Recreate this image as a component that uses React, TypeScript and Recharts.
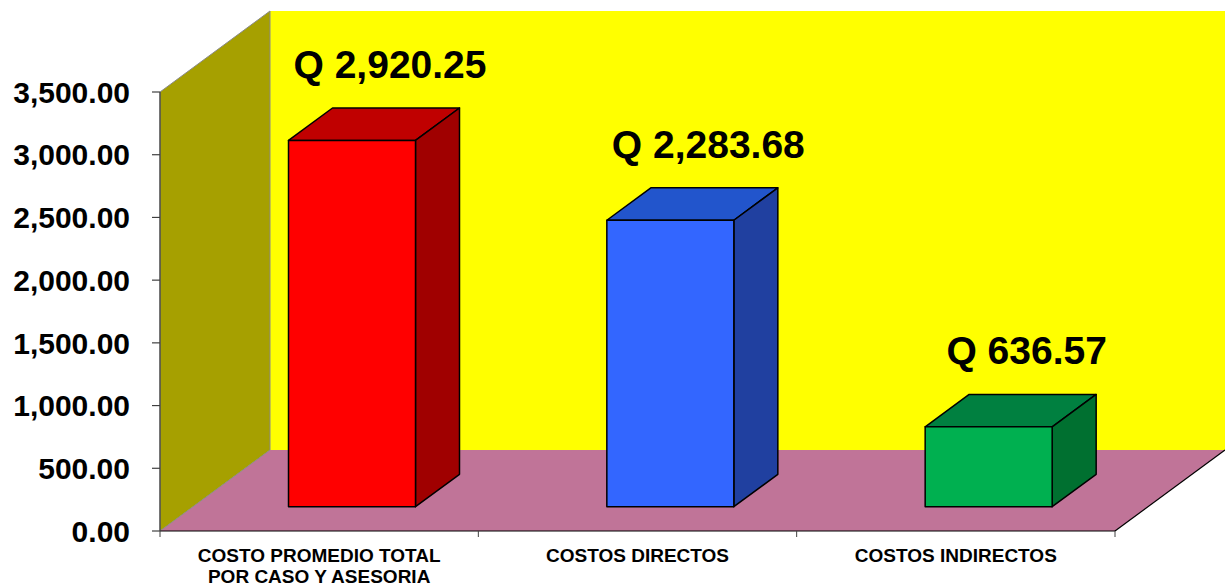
import React from 'react';
import { BarChart, Bar, XAxis, YAxis, ReferenceArea, LabelList } from 'recharts';

const categories = ['COSTO PROMEDIO TOTAL\nPOR CASO Y ASESORIA', 'COSTOS DIRECTOS', 'COSTOS INDIRECTOS'];
const values = [2920.25, 2283.68, 636.57];
const yTicks = [0, 500, 1000, 1500, 2000, 2500, 3000, 3500];
const frontColors = ['#FF0000', '#3366FF', '#00B050'];
const topColors = ['#C00000', '#2255CC', '#008040'];
const sideColors = ['#A00000', '#2040A0', '#007030'];

const data = categories.map((name, i) => ({ name, value: values[i] }));

const FONT = '"Liberation Sans", Arial, Helvetica, sans-serif';
const DX = 110;
const DY = 81;
const FRONT = 0.3;
const BD = 0.4;

const fmt = (v: number) =>
  v.toLocaleString('en-US', { minimumFractionDigits: 2, maximumFractionDigits: 2 });

const Walls = (props: any) => {
  const { x, y, width, height } = props;
  const bottom = y + height;
  const right = x + width;
  const n = categories.length;
  const ticks = [];
  for (let i = 0; i <= n; i++) {
    const tx = x + (width * i) / n;
    ticks.push(<line key={i} x1={tx} y1={bottom} x2={tx} y2={bottom + 6} stroke="#404040" strokeWidth={1} />);
  }
  return (
    <g>
      <rect x={x + DX} y={y - DY} width={width} height={height} fill="#FFFF00" />
      <polygon
        points={`${x},${bottom} ${right},${bottom} ${right + DX},${bottom - DY} ${x + DX},${bottom - DY}`}
        fill="#C07498"
      />
      <polygon
        points={`${x},${y} ${x + DX},${y - DY} ${x + DX},${bottom - DY} ${x},${bottom}`}
        fill="#A6A000"
        stroke="#8A8A8A"
        strokeWidth={1}
      />
      <line x1={right} y1={bottom} x2={right + DX} y2={bottom - DY} stroke="#000" strokeWidth={1.2} />
      <line x1={x} y1={bottom} x2={right} y2={bottom} stroke="#000" strokeWidth={1.2} />
      {ticks}
    </g>
  );
};

const Bar3D = (props: any) => {
  const { x, y, width, height, index } = props;
  const fx = x + FRONT * DX;
  const fy = y - FRONT * DY;
  const bdx = BD * DX;
  const bdy = BD * DY;
  const w = width;
  const h = height;
  return (
    <g stroke="#000" strokeWidth={1.5} strokeLinejoin="round">
      <polygon
        points={`${fx},${fy} ${fx + bdx},${fy - bdy} ${fx + w + bdx},${fy - bdy} ${fx + w},${fy}`}
        fill={topColors[index]}
      />
      <polygon
        points={`${fx + w},${fy} ${fx + w + bdx},${fy - bdy} ${fx + w + bdx},${fy + h - bdy} ${fx + w},${fy + h}`}
        fill={sideColors[index]}
      />
      <rect x={fx} y={fy} width={w} height={h} fill={frontColors[index]} />
    </g>
  );
};

const ValueLabel = (props: any) => {
  const { x, y, width, value } = props;
  return (
    <text
      x={x + width / 2 + 71}
      y={y - FRONT * DY - BD * DY - 30}
      textAnchor="middle"
      fontFamily={FONT}
      fontWeight="bold"
      fontSize={39}
      fill="#000"
    >
      {'Q ' + fmt(value)}
    </text>
  );
};

const XTick = (props: any) => {
  const { x, y, payload } = props;
  const lines = String(payload.value).split('\n');
  return (
    <text x={x} y={y} textAnchor="middle" fontFamily={FONT} fontWeight="bold" fontSize={19} fill="#000">
      {lines.map((l, i) => (
        <tspan key={i} x={x} y={y + 23 + i * 21}>
          {l}
        </tspan>
      ))}
    </text>
  );
};

export default function App() {
  return (
    <div style={{ position: 'absolute', left: 0, top: 0, width: 1225, height: 586, background: '#fff' }}>
      <BarChart
        width={1225}
        height={586}
        data={data}
        margin={{ top: 92, right: 110, left: 10, bottom: 0 }}
        barCategoryGap="30%"
      >
        <ReferenceArea y1={0} y2={3500} shape={<Walls />} ifOverflow="visible" />
        <XAxis dataKey="name" axisLine={false} tickLine={false} height={55} interval={0} tick={<XTick />} />
        <YAxis
          width={150}
          domain={[0, 3500]}
          ticks={yTicks}
          tickFormatter={fmt}
          tickSize={8}
          tickMargin={22}
          axisLine={{ stroke: '#404040', strokeWidth: 1.2 }}
          tickLine={{ stroke: '#404040', strokeWidth: 1.2 }}
          tick={{ fontSize: 30, fontWeight: 'bold', fill: '#000', fontFamily: FONT }}
        />
        <Bar dataKey="value" shape={<Bar3D />} isAnimationActive={false}>
          <LabelList dataKey="value" content={<ValueLabel />} />
        </Bar>
      </BarChart>
    </div>
  );
}
